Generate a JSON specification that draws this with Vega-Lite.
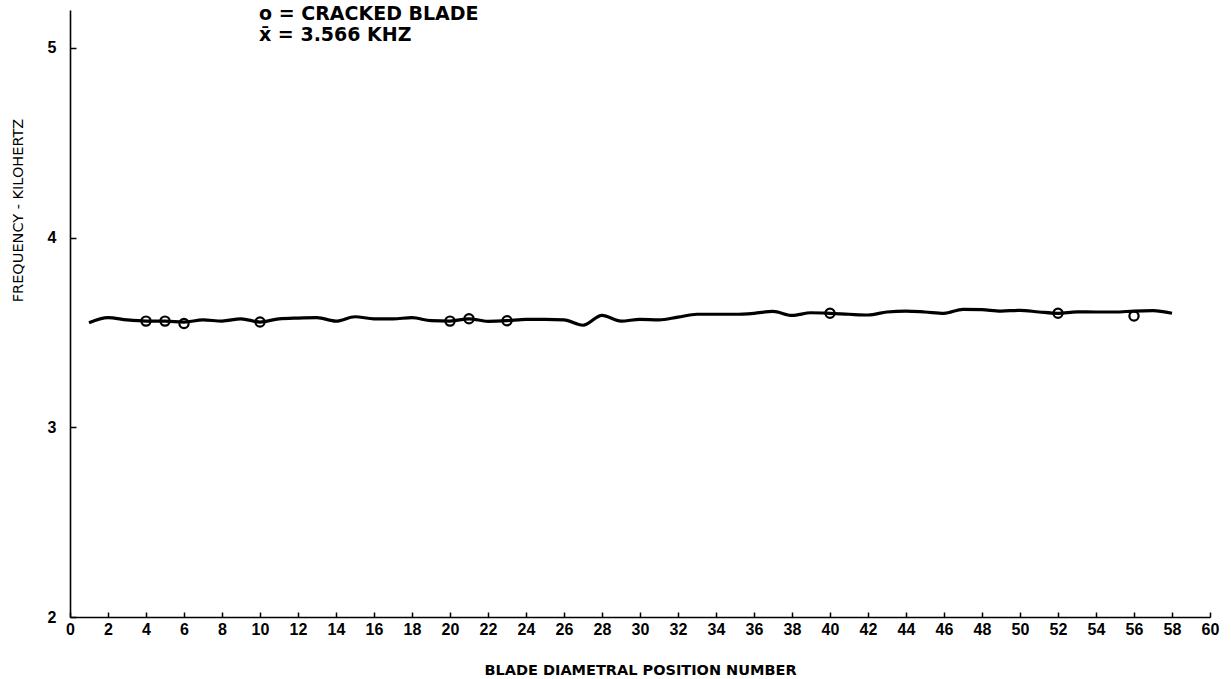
{
  "$schema": "https://vega.github.io/schema/vega-lite/v6.json",
  "width": 1140,
  "height": 607,
  "autosize": {"type": "none"},
  "padding": {"left": 70, "top": 10, "right": 21, "bottom": 62},
  "background": "white",
  "config": {"view": {"stroke": null}, "font": "Liberation Sans"},
  "title": {
    "text": "o = CRACKED BLADE",
    "subtitle": "x\u0304 = 3.566 KHZ",
    "anchor": "start",
    "frame": "group",
    "orient": "top",
    "dx": 189,
    "offset": -35,
    "font": "DejaVu Sans",
    "fontSize": 19,
    "fontWeight": "bold",
    "color": "black",
    "subtitleFont": "DejaVu Sans",
    "subtitleFontSize": 19,
    "subtitleFontWeight": "bold",
    "subtitleColor": "black",
    "subtitlePadding": 2
  },
  "datasets": {
    "freq": [
      {"blade": 1, "khz": 3.551}, {"blade": 2, "khz": 3.578}, {"blade": 3, "khz": 3.566},
      {"blade": 4, "khz": 3.560}, {"blade": 5, "khz": 3.560}, {"blade": 6, "khz": 3.555},
      {"blade": 7, "khz": 3.566}, {"blade": 8, "khz": 3.560}, {"blade": 9, "khz": 3.572},
      {"blade": 10, "khz": 3.555}, {"blade": 11, "khz": 3.572}, {"blade": 12, "khz": 3.576},
      {"blade": 13, "khz": 3.578}, {"blade": 14, "khz": 3.560}, {"blade": 15, "khz": 3.583},
      {"blade": 16, "khz": 3.572}, {"blade": 17, "khz": 3.572}, {"blade": 18, "khz": 3.578},
      {"blade": 19, "khz": 3.562}, {"blade": 20, "khz": 3.560}, {"blade": 21, "khz": 3.572},
      {"blade": 22, "khz": 3.559}, {"blade": 23, "khz": 3.562}, {"blade": 24, "khz": 3.569},
      {"blade": 25, "khz": 3.569}, {"blade": 26, "khz": 3.566}, {"blade": 27, "khz": 3.538},
      {"blade": 28, "khz": 3.590}, {"blade": 29, "khz": 3.560}, {"blade": 30, "khz": 3.569},
      {"blade": 31, "khz": 3.566}, {"blade": 32, "khz": 3.581}, {"blade": 33, "khz": 3.596},
      {"blade": 34, "khz": 3.596}, {"blade": 35, "khz": 3.596}, {"blade": 36, "khz": 3.601},
      {"blade": 37, "khz": 3.611}, {"blade": 38, "khz": 3.590}, {"blade": 39, "khz": 3.604},
      {"blade": 40, "khz": 3.601}, {"blade": 41, "khz": 3.596}, {"blade": 42, "khz": 3.592},
      {"blade": 43, "khz": 3.608}, {"blade": 44, "khz": 3.613}, {"blade": 45, "khz": 3.608},
      {"blade": 46, "khz": 3.601}, {"blade": 47, "khz": 3.622}, {"blade": 48, "khz": 3.620},
      {"blade": 49, "khz": 3.613}, {"blade": 50, "khz": 3.617}, {"blade": 51, "khz": 3.608},
      {"blade": 52, "khz": 3.601}, {"blade": 53, "khz": 3.609}, {"blade": 54, "khz": 3.608},
      {"blade": 55, "khz": 3.608}, {"blade": 56, "khz": 3.613}, {"blade": 57, "khz": 3.615},
      {"blade": 58, "khz": 3.601}
    ],
    "cracked": [
      {"blade": 4, "khz": 3.560}, {"blade": 5, "khz": 3.560}, {"blade": 6, "khz": 3.547},
      {"blade": 10, "khz": 3.555}, {"blade": 20, "khz": 3.560}, {"blade": 21, "khz": 3.572},
      {"blade": 23, "khz": 3.562}, {"blade": 40, "khz": 3.601}, {"blade": 52, "khz": 3.601},
      {"blade": 56, "khz": 3.587}
    ],
    "mean": [{"label": "x\u0304", "khz": 3.566}]
  },
  "encoding": {
    "x": {
      "field": "blade", "type": "quantitative",
      "scale": {"domain": [0, 60], "nice": false, "zero": false},
      "axis": {
        "values": [0,2,4,6,8,10,12,14,16,18,20,22,24,26,28,30,32,34,36,38,40,42,44,46,48,50,52,54,56,58,60],
        "format": "d",
        "grid": false,
        "domainColor": "black", "domainWidth": 1.6,
        "tickColor": "black", "tickSize": -5, "tickWidth": 1.5,
        "labelPadding": 9, "labelFont": "Liberation Sans", "labelFontSize": 16, "labelFontWeight": "bold", "labelColor": "black",
        "labelFlush": false, "labelOverlap": false, "labelBound": false,
        "title": "BLADE DIAMETRAL POSITION NUMBER",
        "titleFont": "DejaVu Sans", "titleFontSize": 14.5, "titleFontWeight": "bold", "titleColor": "black",
        "titleY": 53, "titleBaseline": "middle"
      }
    },
    "y": {
      "field": "khz", "type": "quantitative",
      "scale": {"domain": [2, 5.2], "nice": false, "zero": false},
      "axis": {
        "values": [2, 3, 4, 5],
        "format": "d",
        "grid": false,
        "domainColor": "black", "domainWidth": 1.6,
        "tickColor": "black", "tickSize": -6, "tickWidth": 1.5,
        "labelPadding": 20, "labelFont": "Liberation Sans", "labelFontSize": 16, "labelFontWeight": "bold", "labelColor": "black",
        "labelFlush": false,
        "title": "FREQUENCY - KILOHERTZ",
        "titleFont": "DejaVu Sans", "titleFontSize": 14.5, "titleFontWeight": "normal", "titleColor": "black",
        "titleX": -52, "titleY": 200, "titleAngle": 270, "titleAlign": "center", "titleBaseline": "middle"
      }
    }
  },
  "layer": [
    {
      "data": {"name": "cracked"},
      "mark": {"type": "point", "shape": "circle", "filled": false, "fill": "white", "fillOpacity": 1, "stroke": "black", "strokeWidth": 2.2, "size": 85, "opacity": 1}
    },
    {
      "data": {"name": "freq"},
      "mark": {"type": "line", "color": "black", "strokeWidth": 3.2, "interpolate": "monotone"}
    },
    {
      "data": {"name": "mean"},
      "mark": {"type": "rule", "color": "black", "strokeWidth": 1.8, "strokeDash": [5, 5]},
      "encoding": {
        "x": {"datum": -1.15},
        "x2": {"datum": 0.4}
      }
    },
    {
      "data": {"name": "mean"},
      "mark": {"type": "text", "font": "Liberation Sans", "fontSize": 14, "fontWeight": "bold", "color": "black", "dy": 25, "align": "center"},
      "encoding": {
        "x": {"datum": 0.45},
        "text": {"field": "label"}
      }
    }
  ]
}
